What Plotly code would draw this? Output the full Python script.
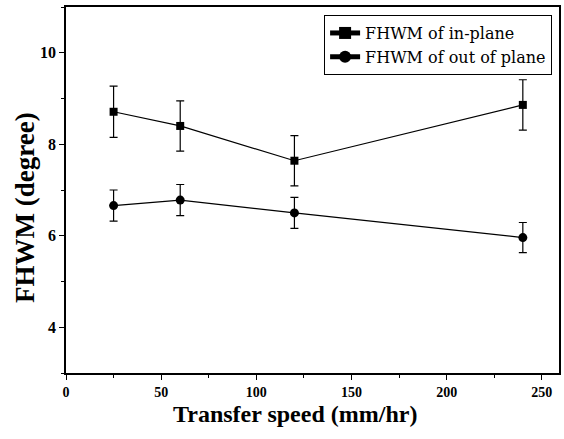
import plotly.graph_objects as go

speed = [25, 60, 120, 240]
inplane = [8.71, 8.40, 7.64, 8.86]
inplane_err = [0.56, 0.55, 0.55, 0.55]
outplane = [6.66, 6.78, 6.50, 5.96]
outplane_err = [0.34, 0.34, 0.34, 0.33]

x_ticks = [0, 50, 100, 150, 200, 250]
y_ticks = [4, 6, 8, 10]

x_title = "Transfer speed (mm/hr)"
y_title = "FHWM (degree)"

font_fam = "Liberation Serif, Times New Roman, serif"

fig = go.Figure()
fig.add_trace(go.Scatter(
    x=speed, y=inplane, mode="lines+markers", name="FHWM of in-plane",
    line=dict(color="black", width=1.2),
    marker=dict(symbol="square", size=8, color="black"),
    error_y=dict(type="data", array=inplane_err, color="black", thickness=1.2, width=4),
))
fig.add_trace(go.Scatter(
    x=speed, y=outplane, mode="lines+markers", name="FHWM of out of plane",
    line=dict(color="black", width=1.2),
    marker=dict(symbol="circle", size=9, color="black"),
    error_y=dict(type="data", array=outplane_err, color="black", thickness=1.2, width=4),
))

axis_common = dict(
    showline=True, linecolor="black", linewidth=1.5, mirror=True,
    ticks="outside", ticklen=5, tickwidth=1.3, tickcolor="black",
    showgrid=False, zeroline=False, automargin=False,
)

fig.update_xaxes(
    range=[0, 259], tickvals=x_ticks, ticktext=["<b>%d</b>" % v for v in x_ticks],
    tickfont=dict(family=font_fam, size=14, color="black"),
    minor=dict(dtick=25, tick0=0, ticks="outside", ticklen=3, tickcolor="black", tickwidth=1),
    **axis_common,
)
fig.update_yaxes(
    range=[3, 11], tickvals=y_ticks, ticktext=["<b>%d</b>" % v for v in y_ticks],
    tickfont=dict(family=font_fam, size=16, color="black"),
    minor=dict(dtick=1, tick0=3, ticks="outside", ticklen=3, tickcolor="black", tickwidth=1),
    **axis_common,
)

fig.add_annotation(
    text="<b>%s</b>" % x_title, xref="paper", yref="paper",
    x=0.4645, y=-0.113, xanchor="center", yanchor="middle", showarrow=False,
    font=dict(family=font_fam, size=24, color="black"),
)
fig.add_annotation(
    text="<b>%s</b>" % y_title, xref="paper", yref="paper", textangle=-90,
    x=-0.083, y=0.451, xanchor="center", yanchor="middle", showarrow=False,
    font=dict(family=font_fam, size=27, color="black"),
)

fig.update_layout(
    width=564, height=439,
    margin=dict(l=66, r=5, t=7, b=66),
    paper_bgcolor="white", plot_bgcolor="white",
    showlegend=True,
    legend=dict(
        x=0.986, y=0.978, xanchor="right", yanchor="top",
        bordercolor="black", borderwidth=1, bgcolor="white",
        font=dict(family="DejaVu Serif, serif", size=16, color="black"),
        tracegroupgap=0, itemsizing="constant",
    ),
)

fig.write_html(
    "out.html",
    config={"displayModeBar": False},
    post_script="document.body.style.margin='0';document.body.style.overflow='hidden';",
)
